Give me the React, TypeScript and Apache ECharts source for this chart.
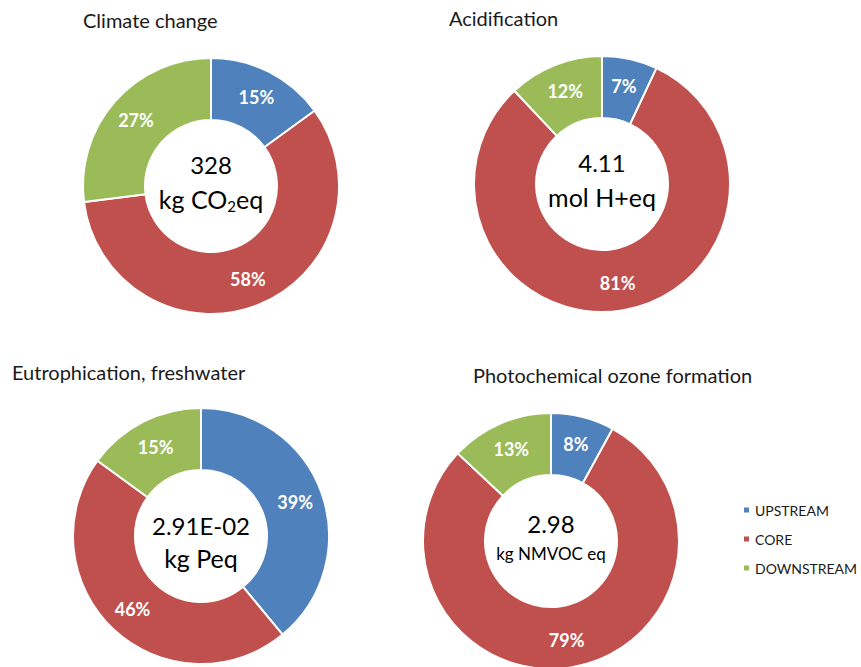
import React, { useEffect, useRef } from "react";
import * as echarts from "echarts";

const categories = ["UPSTREAM", "CORE", "DOWNSTREAM"];
const colors = ["#4F81BD", "#C0504D", "#9BBB59"];

const chartTitles = [
  "Climate change",
  "Acidification",
  "Eutrophication, freshwater",
  "Photochemical ozone formation",
];
const climateShares = [15, 58, 27];
const acidShares = [7, 81, 12];
const eutroShares = [39, 46, 15];
const photoShares = [8, 79, 13];
const totals = ["328", "4.11", "2.91E-02", "2.98"];
const units = ["kg CO{sub|2}eq", "mol H+eq", "kg Peq", "kg NMVOC eq"];

const FONT = "Lato, 'Open Sans', sans-serif";

const layouts = [
  { cx: 211, cy: 186, tx: 83, ty: 10 },
  { cx: 602, cy: 184, tx: 449, ty: 8 },
  { cx: 201, cy: 536, tx: 12, ty: 362 },
  { cx: 551, cy: 541, tx: 473, ty: 365 },
];

export default function App() {
  const ref = useRef<HTMLDivElement>(null);
  useEffect(() => {
    if (!ref.current) return;
    const chart = echarts.init(ref.current, null, { renderer: "svg" });
    const shares = [climateShares, acidShares, eutroShares, photoShares];
    const series = shares.map((vals, i) => ({
      type: "pie",
      name: chartTitles[i],
      center: [layouts[i].cx, layouts[i].cy],
      radius: [66, 128],
      startAngle: 90,
      clockwise: true,
      avoidLabelOverlap: false,
      itemStyle: { borderColor: "#ffffff", borderWidth: 2 },
      label: {
        show: true,
        position: "inside",
        formatter: (p: any) => p.value + "%",
        color: "#ffffff",
        fontWeight: "bold",
        fontSize: 18,
        fontFamily: FONT,
      },
      labelLine: { show: false },
      emphasis: { disabled: true },
      data: vals.map((v, k) => ({
        name: categories[k],
        value: v,
        itemStyle: { color: colors[k] },
      })),
    }));
    const titles = chartTitles.map((t, i) => ({
      text: t,
      left: layouts[i].tx,
      top: layouts[i].ty,
      padding: 0,
      textStyle: {
        fontFamily: FONT,
        fontSize: 20,
        fontWeight: "normal",
        color: "#1a1a1a",
      },
    }));
    const centerTexts: any[] = [];
    layouts.forEach((l, i) => {
      const small = i === 3;
      centerTexts.push({
        type: "text",
        x: l.cx,
        y: l.cy + (i === 2 ? -11 : i === 3 ? -18 : -22),
        style: {
          text: totals[i],
          fill: "#000",
          font: `24px ${FONT}`,
          align: "center",
          verticalAlign: "middle",
        },
      });
      centerTexts.push({
        type: "text",
        x: l.cx,
        y: l.cy + (i === 2 ? 22 : i === 3 ? 12 : 13),
        style: {
          text: units[i],
          fill: "#000",
          fontSize: small ? 17 : 25,
          fontFamily: FONT,
          align: "center",
          verticalAlign: "middle",
          rich: {
            sub: {
              fontSize: 15,
              fontFamily: FONT,
              fill: "#000",
              padding: [13, 0, 0, 0],
            },
          },
        },
      });
    });
    chart.setOption({
      animation: false,
      backgroundColor: "#ffffff",
      title: titles,
      legend: {
        orient: "vertical",
        left: 742,
        top: 503,
        padding: 0,
        icon: "rect",
        itemWidth: 7,
        itemHeight: 7,
        itemGap: 15,
        selectedMode: false,
        data: categories,
        textStyle: { fontFamily: FONT, fontSize: 14, color: "#1a1a1a" },
      },
      series,
      graphic: centerTexts,
    });
    return () => chart.dispose();
  }, []);
  return (
    <div
      ref={ref}
      style={{ position: "absolute", left: 0, top: 0, width: 861, height: 667 }}
    />
  );
}
